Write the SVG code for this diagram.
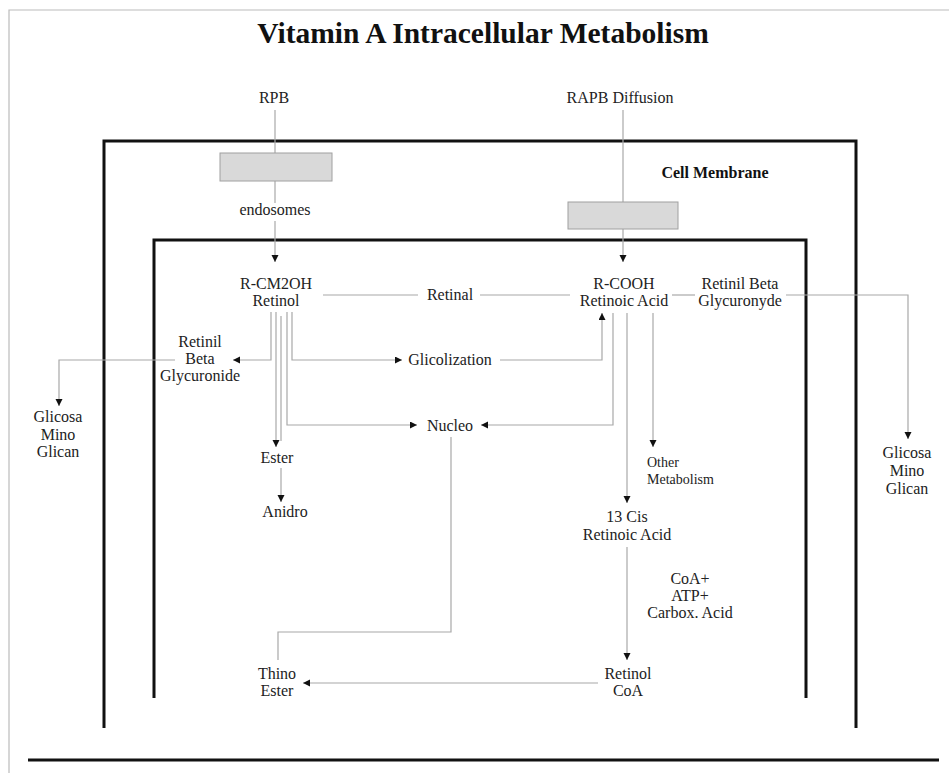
<svg xmlns="http://www.w3.org/2000/svg" width="949" height="773" viewBox="0 0 949 773">
  <defs>
    <marker id="arr" markerUnits="userSpaceOnUse" markerWidth="8" markerHeight="8" refX="7" refY="3.5" orient="auto">
      <path d="M0,0 L7,3.5 L0,7 z" fill="#111"/>
    </marker>
    <style>
      text { font-family: "Liberation Serif", "Times New Roman", serif; fill: #222; font-size: 16px; text-anchor: middle; }
      .title { font-size: 29.5px; font-weight: bold; fill: #111; }
      .bold { font-weight: bold; fill: #111; }
      .small { font-size: 14px; text-anchor: start; }
      .conn { fill: none; stroke: #a8a8a8; stroke-width: 1.2; }
      .arrow { marker-end: url(#arr); }
      .membrane { fill: none; stroke: #111; stroke-width: 3; }
      .frame { fill: none; stroke: #bbb; stroke-width: 1.2; }
      .gbox { fill: #d9d9d9; stroke: #a0a0a0; stroke-width: 1; }
    </style>
  </defs>
  <rect width="949" height="773" fill="#fff"/>

  <g id="frame">
    <path class="frame" d="M9 773 V10 H949"/>
    <path class="membrane" d="M28 760 H939"/>
  </g>

  <g id="membranes">
    <path class="membrane" d="M104 728 V141 H856 V728"/>
    <path class="membrane" d="M154 698 V240 H806 V698"/>
  </g>

  <g id="connectors">
    <path class="conn" d="M275 110 V203"/>
    <path class="conn arrow" d="M275 221 V262"/>
    <path class="conn arrow" d="M623 110 V262"/>
    <path class="conn" d="M323 295 H418"/>
    <path class="conn" d="M480 295 H570"/>
    <path class="conn" d="M672 295 H695"/>
    <path class="conn arrow" d="M786 295 H908 V439"/>
    <path class="conn arrow" d="M271 312 V360 H233"/>
    <path class="conn arrow" d="M175 360 H59 V406"/>
    <path class="conn arrow" d="M276 312 V447"/>
    <path class="conn" d="M281 316 V441"/>
    <path class="conn arrow" d="M287 312 V425 H417"/>
    <path class="conn arrow" d="M292 312 V360 H402"/>
    <path class="conn arrow" d="M500 360 H602 V313"/>
    <path class="conn arrow" d="M613 313 V425 H481"/>
    <path class="conn arrow" d="M627 313 V503"/>
    <path class="conn arrow" d="M653 313 V447"/>
    <path class="conn arrow" d="M281 468 V502"/>
    <path class="conn arrow" d="M627 547 V660"/>
    <path class="conn arrow" d="M598 683 H303"/>
    <path class="conn" d="M451 437 V632 H278 V660"/>
  </g>

  <g id="title"><text class="title" x="483" y="43">Vitamin A Intracellular Metabolism</text></g>
  <g id="rpb"><text x="274" y="103">RPB</text></g>
  <g id="rapb"><text x="620" y="103">RAPB Diffusion</text></g>
  <g id="box-left"><rect class="gbox" x="220" y="153" width="112" height="28"/></g>
  <g id="box-right"><rect class="gbox" x="568" y="202" width="110" height="27"/></g>
  <g id="endosomes"><text x="275" y="215">endosomes</text></g>
  <g id="cell-membrane"><text class="bold" x="715" y="178">Cell Membrane</text></g>
  <g id="retinol"><text x="276" y="289">R-CM2OH</text><text x="276" y="306">Retinol</text></g>
  <g id="retinal"><text x="450" y="300">Retinal</text></g>
  <g id="retinoic-acid"><text x="624" y="289">R-COOH</text><text x="624" y="306">Retinoic Acid</text></g>
  <g id="retinil-beta-right"><text x="740" y="289">Retinil Beta</text><text x="740" y="306">Glycuronyde</text></g>
  <g id="retinil-beta-left"><text x="200" y="347">Retinil</text><text x="200" y="364">Beta</text><text x="200" y="381">Glycuronide</text></g>
  <g id="glicosa-left"><text x="58" y="422">Glicosa</text><text x="58" y="440">Mino</text><text x="58" y="457">Glican</text></g>
  <g id="glicosa-right"><text x="907" y="458">Glicosa</text><text x="907" y="476">Mino</text><text x="907" y="494">Glican</text></g>
  <g id="glicolization"><text x="450" y="365">Glicolization</text></g>
  <g id="nucleo"><text x="450" y="431">Nucleo</text></g>
  <g id="ester"><text x="277" y="463">Ester</text></g>
  <g id="anidro"><text x="285" y="517">Anidro</text></g>
  <g id="other-metabolism"><text class="small" x="647" y="467">Other</text><text class="small" x="647" y="484">Metabolism</text></g>
  <g id="cis-retinoic"><text x="627" y="522">13 Cis</text><text x="627" y="540">Retinoic Acid</text></g>
  <g id="coa-label"><text x="690" y="584">CoA+</text><text x="690" y="601">ATP+</text><text x="690" y="618">Carbox. Acid</text></g>
  <g id="retinol-coa"><text x="628" y="679">Retinol</text><text x="628" y="696">CoA</text></g>
  <g id="thino-ester"><text x="277" y="679">Thino</text><text x="277" y="696">Ester</text></g>
</svg>
